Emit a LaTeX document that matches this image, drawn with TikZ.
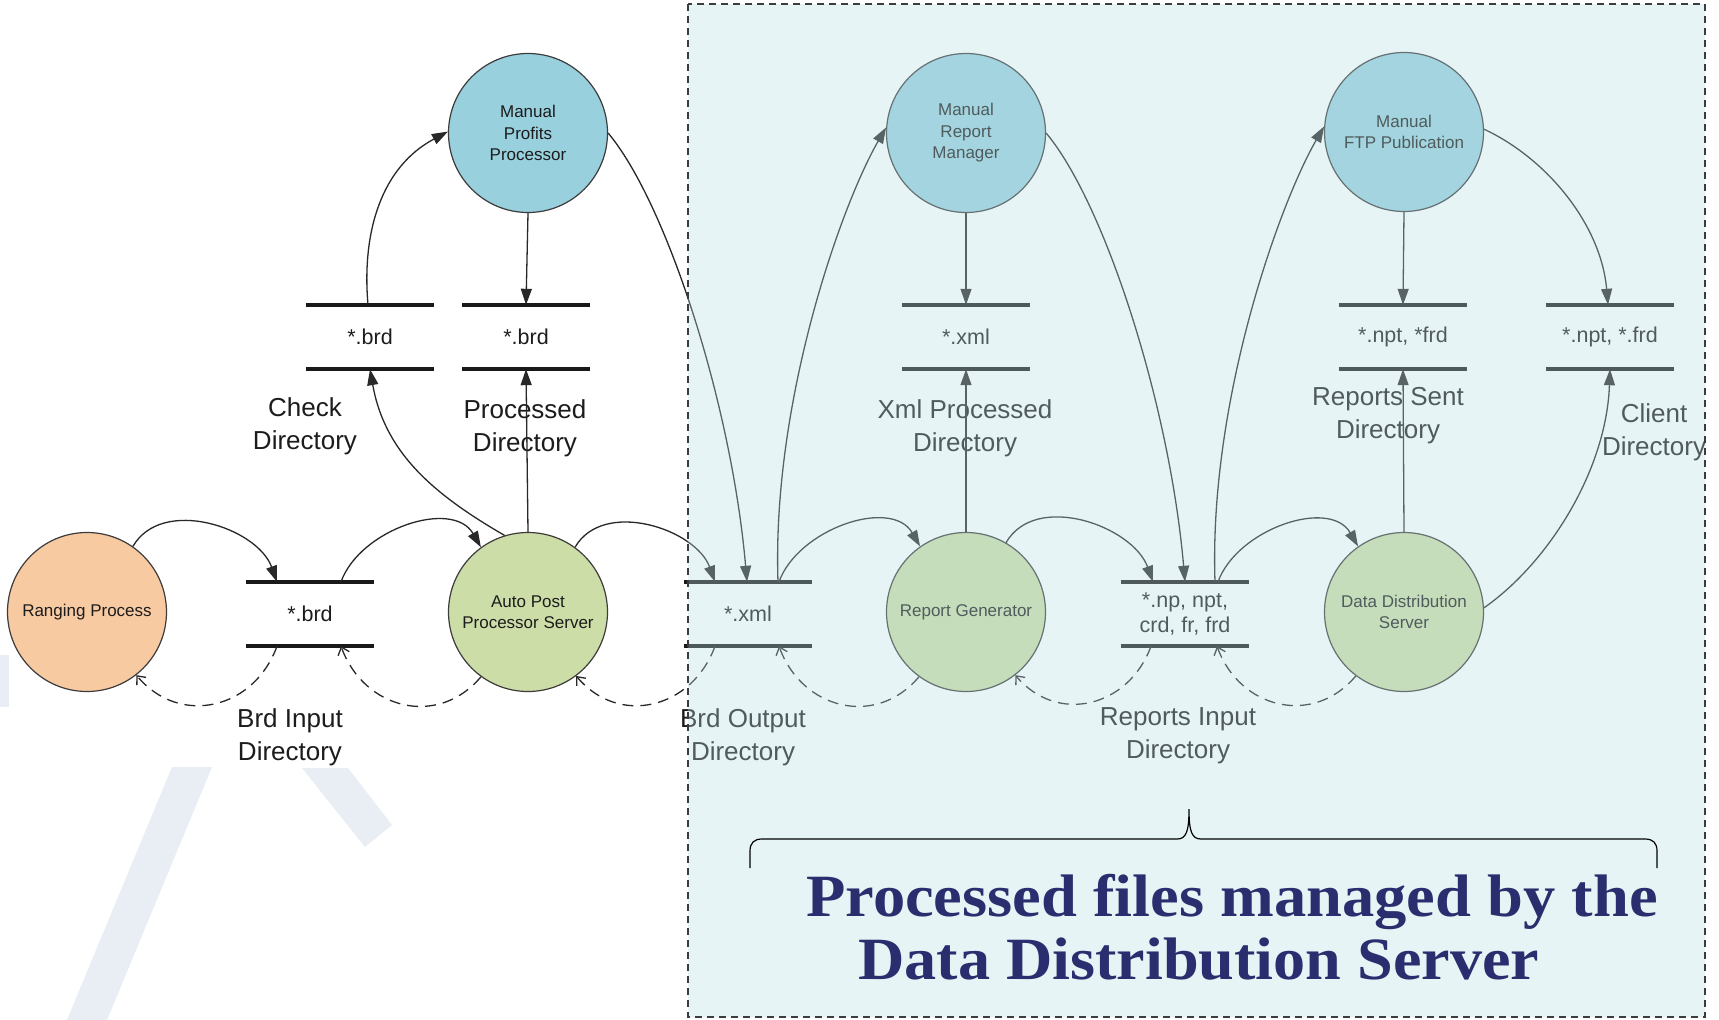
\documentclass[tikz,border=0pt]{standalone}
\usepackage{fontspec}
\usepackage{graphicx}
\setmainfont{Liberation Sans}
\newfontfamily\titlefont{Liberation Serif}
\usetikzlibrary{arrows.meta}
\definecolor{orangec}{RGB}{248,202,162}
\definecolor{greenc}{RGB}{205,221,168}
\definecolor{bluec}{RGB}{153,208,222}
\definecolor{circedge}{RGB}{60,60,60}
\definecolor{linec}{RGB}{40,40,40}
\definecolor{storec}{RGB}{25,25,25}
\definecolor{txt}{RGB}{28,28,28}
\definecolor{overlayc}{RGB}{185,222,226}
\definecolor{navy}{RGB}{42,46,110}
\definecolor{wmc}{RGB}{232,238,243}
\begin{document}
\begin{tikzpicture}[x=1pt,y=-1pt,
  procnode/.style={circle, draw=circedge, line width=1.2pt, minimum size=159pt, inner sep=0pt, align=center, font=\fontsize{17}{21.5}\selectfont, text=txt},
  store/.style={minimum width=128pt, minimum height=64pt, inner sep=0pt, align=center, font=\fontsize{21.5}{25}\selectfont, text=txt},
  sline/.style={line width=4.5pt, draw=storec},
  lab/.style={align=center, font=\fontsize{26}{33}\selectfont, text=txt},
  flow/.style={draw=linec, line width=1.3pt, -{Triangle[length=16pt,width=11pt]}},
  ret/.style={draw=linec, line width=1.3pt, dash pattern=on 11pt off 7pt, -{Straight Barb[length=7pt,width=12pt]}},
  titletext/.style={anchor=base west, inner sep=0pt, text=navy, font=\titlefont\bfseries\fontsize{60}{62}\selectfont},
]
\useasboundingbox (0,0) rectangle (1719,1020);
\fill[white] (0,0) rectangle (1719,1020);
% watermark shapes
\fill[wmc] (172,767) -- (212,767) -- (107,1020) -- (67,1020) -- cycle;
\fill[wmc] (302,768) -- (348,768) -- (392,825) -- (365,847) -- cycle;
\fill[wmc] (0,655) rectangle (9,707);

% processes
\node[procnode, fill=orangec] (rp) at (87,612) {Ranging Process};
\node[procnode, fill=greenc] (app) at (528,612) {Auto Post\\Processor Server};
\node[procnode, fill=greenc] (rg) at (966,612) {Report Generator};
\node[procnode, fill=greenc] (dds) at (1404,612) {Data Distribution\\Server};
\node[procnode, fill=bluec] (mpp) at (528,133) {Manual\\Profits\\Processor};
\node[procnode, fill=bluec] (mrm) at (966,133) {Manual\\Report\\Manager};
\node[procnode, fill=bluec] (ftp) at (1404,132) {Manual\\FTP Publication};

% stores
\node[store] (brdin) at (310,614) {*.brd};
\node[store] (xmlout) at (748,614) {*.xml};
\node[store] (repin) at (1185,614) {*.np, npt,\\crd, fr, frd};
\node[store] (chk) at (370,337) {*.brd};
\node[store] (procd) at (526,337) {*.brd};
\node[store] (xmlp) at (966,337) {*.xml};
\node[store] (sent) at (1403,337) {*.npt, *frd};
\node[store] (client) at (1610,337) {*.npt, *.frd};
\foreach \s in {brdin,xmlout,repin,chk,procd,xmlp,sent,client}
  \draw[sline] (\s.north west) -- (\s.north east) (\s.south west) -- (\s.south east);

% labels
\node[lab] (lchk) at (305,426) {Check\\Directory};
\node[lab] (lproc) at (525,428) {Processed\\Directory};
\node[lab] (lxmlp) at (965,428) {Xml Processed\\Directory};
\node[lab] (lsent) at (1388,416) {Reports Sent\\Directory};
\node[lab] (lclient) at (1654,432) {Client\\Directory};
\node[lab] (lbrdin) at (290,737) {Brd Input\\Directory};
\node[lab] (lbrdout) at (743,737) {Brd Output\\Directory};
\node[lab] (lrepin) at (1178,736) {Reports Input\\Directory};

% middle row solid flows
\draw[flow] (rp.55) to[out=60,in=110] ([xshift=-33pt]brdin.north);
\draw[flow] ([xshift=31pt]brdin.north) to[out=70,in=120] (app.126);
\draw[flow] (app.54) to[out=60,in=110] ([xshift=-33pt]xmlout.north);
\draw[flow] ([xshift=31pt]xmlout.north) to[out=70,in=120] (rg.125);
\draw[flow] (rg.60) to[out=60,in=110] ([xshift=-32pt]repin.north);
\draw[flow] ([xshift=33pt]repin.north) to[out=70,in=120] (dds.125);

% middle row dashed returns
\draw[ret] ([xshift=-33pt]brdin.south) to[out=-110,in=-50,looseness=1.2] (rp.-52);
\draw[ret] (app.234) to[out=-130,in=-70,looseness=1.2] ([xshift=31pt]brdin.south);
\draw[ret] ([xshift=-33pt]xmlout.south) to[out=-110,in=-50,looseness=1.2] (app.-53);
\draw[ret] (rg.234) to[out=-130,in=-70,looseness=1.2] ([xshift=31pt]xmlout.south);
\draw[ret] ([xshift=-34pt]repin.south) to[out=-110,in=-50,looseness=1.2] (rg.-52);
\draw[ret] (dds.233) to[out=-130,in=-70,looseness=1.2] ([xshift=32pt]repin.south);

% upper flows
\draw[flow] ([xshift=-2pt]chk.north) to[out=95,in=-152] (mpp.179);
\draw[flow] (mpp.south) -- (procd.north);
\draw[flow] (app.107) to[out=150,in=-80] (chk.south);
\draw[flow] (app.north) -- (procd.south);
\draw[flow] (mpp.0) to[out=-50,in=95,out distance=90pt,in distance=180pt] ([xshift=-1pt]xmlout.north);
\draw[flow] ([xshift=30pt]xmlout.north) to[out=92,in=-120,out distance=180pt,in distance=90pt] (mrm.176);
\draw[flow] (mrm.south) -- (xmlp.north);
\draw[flow] (rg.north) -- (xmlp.south);
\draw[flow] (mrm.0) to[out=-50,in=95,out distance=90pt,in distance=180pt] (repin.north);
\draw[flow] ([xshift=30pt]repin.north) to[out=92,in=-120,out distance=180pt,in distance=90pt] (ftp.176);
\draw[flow] (ftp.south) -- (sent.north);
\draw[flow] (dds.north) -- (sent.south);
\draw[flow] (ftp.2) to[out=-25,in=95,out distance=70pt,in distance=80pt] ([xshift=-2pt]client.north);
\draw[flow] (dds.3) to[out=35,in=-92,out distance=80pt,in distance=100pt] (client.south);

% overlay region
\fill[overlayc, fill opacity=0.33] (688,4) rectangle (1705,1017);
\draw[circedge, line width=1.3pt, dash pattern=on 7pt off 5pt] (688,4) rectangle (1705,1017);

% brace
\draw[black, line width=1.2pt] (750,868) -- (750,851) .. controls (750,843) and (754,839) .. (762,839) -- (1177,839) .. controls (1186,839) and (1189,832) .. (1189,809) .. controls (1189,832) and (1192,839) .. (1201,839) -- (1645,839) .. controls (1653,839) and (1657,843) .. (1657,851) -- (1657,868);

% title
\node[titletext] (t1) at (806,916) {\scalebox{1.075}[1]{Processed files managed by the}};
\node[titletext] (t2) at (858,979) {\scalebox{1.07}[1]{Data Distribution Server}};
\end{tikzpicture}
\end{document}
